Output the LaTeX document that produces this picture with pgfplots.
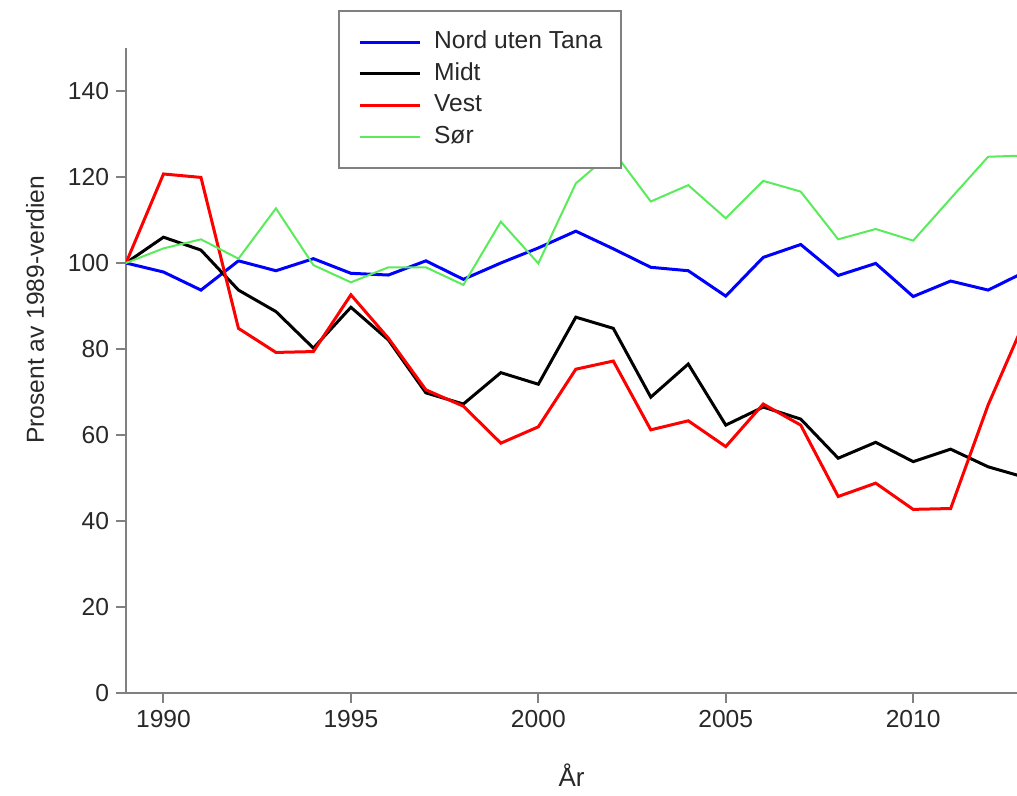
\documentclass[border=0pt]{standalone}
\usepackage{pgfplots}
\pgfplotsset{compat=1.18}
\usepackage{fontspec}
\setmainfont{Liberation Sans}
\definecolor{axgray}{RGB}{128,128,128}
\definecolor{txt}{RGB}{40,40,40}
\definecolor{sorgreen}{RGB}{90,235,90}
\begin{document}
\begin{tikzpicture}
\useasboundingbox (0,0) rectangle (508.5pt,398pt);
\begin{axis}[
  at={(63pt,51.5pt)}, anchor=south west,
  scale only axis, width=445.5pt, height=322.5pt,
  xmin=1989, xmax=2012.77, ymin=0, ymax=150,
  axis x line=bottom, axis y line=left,
  axis line style={-, draw=axgray, line width=1.1pt},
  xtick={1990,1995,2000,2005,2010},
  ytick={0,20,40,60,80,100,120,140},
  tick align=outside, major tick length=5pt,
  tick style={draw=axgray, line width=1pt},
  /pgf/number format/assume math mode=true,
  /pgf/number format/1000 sep={},
  font=\fontsize{12.3}{14}\selectfont,
  ticklabel style={text=txt, font=\fontsize{12.3}{14}\selectfont},
  xlabel={År}, ylabel={Prosent av 1989-verdien},
  xlabel style={at={(rel axis cs:0.5,0)}, anchor=center, yshift=-41pt, text=txt, font=\fontsize{13}{15}\selectfont},
  ylabel style={at={(rel axis cs:0,0.594)}, anchor=center, rotate=0, yshift=45.5pt, text=txt},
  legend cell align=left,
  legend style={at={(rel axis cs:0.238,1.059)}, anchor=north west,
    draw=axgray, line width=1pt, fill=white,
    inner xsep=9.5pt, inner ysep=10pt,
    nodes={inner sep=0pt, text height=9pt, text depth=2.5pt, text=txt, font=\fontsize{12.3}{14}\selectfont},
    row sep=4.25pt, column sep=6.5pt},
  legend image code/.code={\draw[#1] (0pt,0pt) -- (30pt,0pt);},
]
\addplot[blue, line width=1.5pt] coordinates {
(1989,100) (1990,97.9) (1991,93.7) (1992,100.5) (1993,98.2) (1994,101) (1995,97.6) (1996,97.2) (1997,100.5) (1998,96.2) (1999,100) (2000,103.5) (2001,107.4) (2002,103.3) (2003,99) (2004,98.2) (2005,92.3) (2006,101.3) (2007,104.3) (2008,97.1) (2009,99.9) (2010,92.2) (2011,95.8) (2012,93.7) (2013,98)
};
\addlegendentry{Nord uten Tana}
\addplot[black, line width=1.5pt] coordinates {
(1989,100) (1990,106) (1991,103) (1992,93.7) (1993,88.7) (1994,80.2) (1995,89.7) (1996,82.1) (1997,69.8) (1998,67.2) (1999,74.5) (2000,71.8) (2001,87.4) (2002,84.8) (2003,68.8) (2004,76.5) (2005,62.3) (2006,66.5) (2007,63.7) (2008,54.6) (2009,58.3) (2010,53.8) (2011,56.7) (2012,52.6) (2013,50.1)
};
\addlegendentry{Midt}
\addplot[red, line width=1.5pt] coordinates {
(1989,100) (1990,120.7) (1991,119.9) (1992,84.8) (1993,79.2) (1994,79.4) (1995,92.6) (1996,82.5) (1997,70.5) (1998,66.7) (1999,58.1) (2000,61.9) (2001,75.3) (2002,77.2) (2003,61.2) (2004,63.3) (2005,57.3) (2006,67.2) (2007,62.3) (2008,45.7) (2009,48.8) (2010,42.7) (2011,42.9) (2012,67) (2013,87)
};
\addlegendentry{Vest}
\addplot[sorgreen, line width=1pt] coordinates {
(1989,100) (1990,103.4) (1991,105.5) (1992,101) (1993,112.7) (1994,99.5) (1995,95.5) (1996,99) (1997,99) (1998,94.9) (1999,109.6) (2000,99.9) (2001,118.5) (2002,126) (2003,114.3) (2004,118.1) (2005,110.4) (2006,119.1) (2007,116.6) (2008,105.5) (2009,107.9) (2010,105.2) (2011,115) (2012,124.7) (2013,125)
};
\addlegendentry{Sør}
\end{axis}
\end{tikzpicture}
\end{document}
